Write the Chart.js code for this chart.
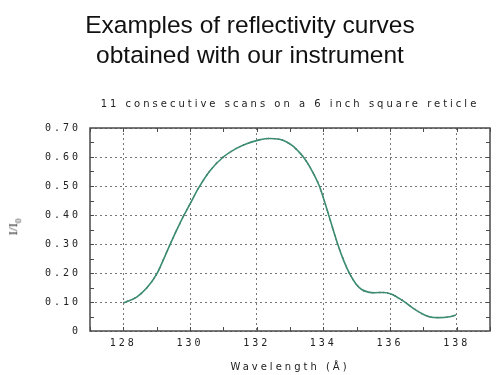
<!DOCTYPE html>
<html>
<head>
<meta charset="utf-8">
<script src="https://cdn.jsdelivr.net/npm/chart.js@4/dist/chart.umd.min.js"></script>
<style>
    body { margin: 0; background: #fff; }
    #wrap { position: relative; width: 500px; height: 375px; }
    #mainTitle {
        position: absolute; left: 0; top: 10px; width: 500px;
        text-align: center; font-family: "Liberation Sans", Arial, sans-serif;
        font-size: 24.5px; line-height: 30px; color: #111;
    }
    #yLabel {
        position: absolute; left: 14px; top: 227px;
        transform: translate(-50%, -50%) rotate(-90deg);
        font-family: "Liberation Serif", serif; font-size: 13px; color: #333;
        white-space: nowrap;
    }
    #yLabel sub { font-size: 9px; }
    canvas { position: absolute; left: 0; top: 0; }
</style>
</head>
<body>
<div id="wrap">
    <canvas id="chart" width="500" height="375"></canvas>
    <div id="mainTitle">Examples of reflectivity curves<br>obtained with our instrument</div>
    <div id="yLabel">I/I<sub>0</sub></div>
</div>
<script>
// wavelength (Å) and reflectivity I/I0
const wavelength = [128.0, 128.4, 128.7, 129.0, 129.2, 129.4, 129.6, 129.8, 130.0, 130.25,
    130.6, 131.0, 131.38, 131.7, 132.08, 132.38, 132.68, 132.9, 133.1, 133.25,
    133.4, 133.6, 133.88, 134.16, 134.43, 134.62, 134.8, 134.98, 135.15, 135.35,
    135.55, 135.8, 136.03, 136.38, 136.78, 137.18, 137.48, 137.78, 137.98];
const reflectivity = [0.097, 0.117, 0.148, 0.196, 0.245, 0.298, 0.348, 0.395, 0.438, 0.492,
    0.553, 0.600, 0.629, 0.646, 0.659, 0.664, 0.661, 0.652, 0.637, 0.620,
    0.600, 0.565, 0.500, 0.400, 0.300, 0.240, 0.195, 0.162, 0.143, 0.134,
    0.132, 0.133, 0.128, 0.105, 0.072, 0.049, 0.046, 0.049, 0.055];

const xTicks = [128, 130, 132, 134, 136, 138];
const xMinorTicks = [127, 128, 129, 130, 131, 132, 133, 134, 135, 136, 137, 138, 139];
const yTicks = [0, 0.1, 0.2, 0.3, 0.4, 0.5, 0.6, 0.7];
const yMinorTicks = [0.05, 0.1, 0.15, 0.2, 0.25, 0.3, 0.35, 0.4, 0.45, 0.5, 0.55, 0.6, 0.65];

const points = wavelength.map((w, i) => ({ x: w, y: reflectivity[i] }));

// spaced-out lettering like the original plot
const spacing = {
    id: "spacing",
    beforeUpdate(chart) { chart.ctx.letterSpacing = "3px"; },
    beforeLayout(chart) { chart.ctx.letterSpacing = "3px"; },
    beforeDraw(chart) { chart.ctx.letterSpacing = "3px"; }
};

// box around the plot with small inner tick marks
const frame = {
    id: "frame",
    beforeDatasetsDraw(chart) {
        const { ctx, chartArea: a, scales } = chart;
        ctx.save();
        ctx.strokeStyle = "#4a4a4a";
        ctx.lineWidth = 1.5;
        ctx.strokeRect(a.left, a.top, a.right - a.left, a.bottom - a.top);
        ctx.lineWidth = 1;
        ctx.beginPath();
        xMinorTicks.forEach(v => {
            const px = Math.round(scales.x.getPixelForValue(v)) + 0.5;
            ctx.moveTo(px, a.bottom); ctx.lineTo(px, a.bottom - 4);
            ctx.moveTo(px, a.top); ctx.lineTo(px, a.top + 4);
        });
        yMinorTicks.forEach(v => {
            const py = Math.round(scales.y.getPixelForValue(v)) + 0.5;
            ctx.moveTo(a.left, py); ctx.lineTo(a.left + 4, py);
            ctx.moveTo(a.right, py); ctx.lineTo(a.right - 4, py);
        });
        ctx.stroke();
        ctx.restore();
    }
};

const tickFont = { family: "'DejaVu Sans Mono', monospace", size: 10 };

new Chart(document.getElementById("chart").getContext("2d"), {
    type: "scatter",
    data: {
        datasets: [
            {
                data: points,
                showLine: true,
                borderColor: "#3a8c72",
                borderWidth: 1.6,
                pointRadius: 0,
                cubicInterpolationMode: "monotone"
            },
            {
                data: points,
                showLine: true,
                borderColor: "#b0306a",
                borderWidth: 1.4,
                borderDash: [1, 9],
                pointRadius: 0,
                cubicInterpolationMode: "monotone"
            },
            {
                data: points,
                showLine: true,
                borderColor: "#333",
                borderWidth: 1.4,
                borderDash: [1, 7],
                borderDashOffset: 4,
                pointRadius: 0,
                cubicInterpolationMode: "monotone"
            }
        ]
    },
    options: {
        responsive: false,
        animation: false,
        layout: { padding: { left: 0, right: 10, top: 0, bottom: 0 } },
        plugins: {
            legend: { display: false },
            tooltip: { enabled: false },
            title: {
                display: true,
                fullSize: false,
                text: "11 consecutive scans on a 6 inch square reticle",
                color: "#222",
                font: { family: "'DejaVu Sans', sans-serif", size: 10, weight: "normal", lineHeight: 1.2 },
                padding: { top: 98, bottom: 18 }
            }
        },
        scales: {
            x: {
                type: "linear",
                min: 127,
                max: 139,
                afterBuildTicks: s => { s.ticks = xTicks.map(v => ({ value: v })); },
                afterFit: s => { s.height = 44; },
                ticks: { color: "#222", font: tickFont, padding: 6, maxRotation: 0 },
                grid: { color: "#777", drawTicks: false, lineWidth: 1 },
                border: { display: false, dash: [2, 3] },
                title: {
                    display: true,
                    text: "Wavelength (Å)",
                    color: "#222",
                    font: { family: "'DejaVu Sans', sans-serif", size: 10, lineHeight: 1.2 },
                    padding: { top: 0, bottom: 2 }
                }
            },
            y: {
                min: 0,
                max: 0.7,
                afterBuildTicks: s => { s.ticks = yTicks.map(v => ({ value: v })); },
                afterFit: s => { s.width = 90; },
                ticks: {
                    color: "#222",
                    font: tickFont,
                    padding: 9,
                    callback: v => (v === 0 ? "0" : v.toFixed(2))
                },
                grid: { color: "#777", drawTicks: false, lineWidth: 1 },
                border: { display: false, dash: [2, 3] }
            }
        }
    },
    plugins: [spacing, frame]
});
</script>
</body>
</html>
